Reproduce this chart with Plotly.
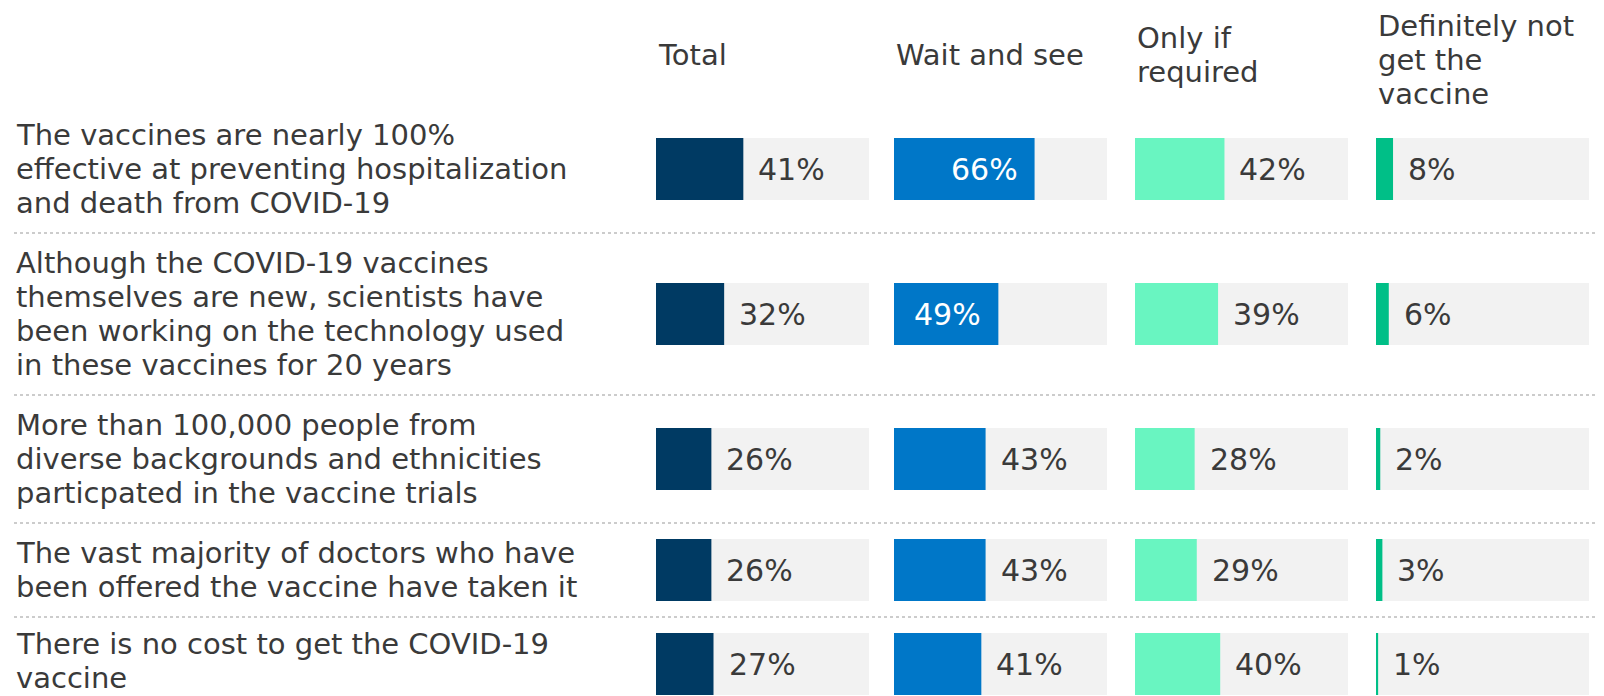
import plotly.graph_objects as go

# ---------------- data ----------------
statements = [
    "The vaccines are nearly 100%<br>effective at preventing hospitalization<br>and death from COVID-19",
    "Although the COVID-19 vaccines<br>themselves are new, scientists have<br>been working on the technology used<br>in these vaccines for 20 years",
    "More than 100,000 people from<br>diverse backgrounds and ethnicities<br>particpated in the vaccine trials",
    "The vast majority of doctors who have<br>been offered the vaccine have taken it",
    "There is no cost to get the COVID-19<br>vaccine",
]
groups = ["Total", "Wait and see", "Only if<br>required", "Definitely not<br>get the<br>vaccine"]
total = [41, 32, 26, 26, 27]
wait_and_see = [66, 49, 43, 43, 41]
only_if_required = [42, 39, 28, 29, 40]
definitely_not = [8, 6, 2, 3, 1]

series = [total, wait_and_see, only_if_required, definitely_not]
colors = ["#003a63", "#0077c8", "#69f5c1", "#00bf87"]

# ---------------- layout constants (page pixels) ----------------
PAGE_W, PAGE_H = 1604, 696
OFF = 8                      # default body margin of the html page
W, H = PAGE_W - OFF, PAGE_H - OFF
FONT = "DejaVu Sans, Verdana, sans-serif"
FS = 29
FS_VAL = 30
TXT = "#3a3a3a"
BG = "#f2f2f2"
col_left = [656, 894, 1135, 1376]
col_w = 213
LINE = 34
PAD = 26
ROW_TOP = 105
BAR_H = 62
HEADER_Y = 55
HEADER_LINE = 34
LABEL_X = 14
HALF_TXT = 18                # half height of a text line box, keeps text inside page

# row geometry derived from number of label lines (in figure pixels)
n_lines = [len(s.split("<br>")) for s in statements]
centers, bounds = [], []
y = ROW_TOP - OFF
for n in n_lines:
    h = n * LINE + PAD
    centers.append(y + h / 2)
    y += h
    bounds.append(y)

fig = go.Figure()
annotations = []
shapes = []

for i, (vals, col) in enumerate(zip(series, colors)):
    ax = "x" if i == 0 else f"x{i+1}"
    fig.add_trace(go.Bar(x=[100] * len(vals), y=centers, orientation="h", width=BAR_H,
                         marker=dict(color=BG, line=dict(width=0)), xaxis=ax, yaxis="y",
                         hoverinfo="skip", showlegend=False))
    fig.add_trace(go.Bar(x=vals, y=centers, orientation="h", width=BAR_H,
                         marker=dict(color=col, line=dict(width=0)), xaxis=ax, yaxis="y",
                         hovertemplate="%{x}%<extra></extra>", showlegend=False))
    for v, c in zip(vals, centers):
        inside = v >= 45
        annotations.append(dict(
            x=v, y=c, xref=ax, yref="y", text=f"{v}%", showarrow=False,
            xanchor="right" if inside else "left", yanchor="middle",
            xshift=-15 if inside else 13,
            font=dict(family=FONT, size=FS_VAL, color="#ffffff" if inside else TXT)))
    # header, block centred on HEADER_Y but kept inside the page top
    hl = groups[i].split("<br>")
    first = HEADER_Y - OFF - (len(hl) - 1) / 2 * HEADER_LINE
    first = max(first, HALF_TXT)
    for k, line in enumerate(hl):
        annotations.append(dict(
            x=0, xref=f"{ax} domain", y=first + k * HEADER_LINE, yref="y",
            text=line, showarrow=False, xanchor="left", yanchor="middle",
            font=dict(family=FONT, size=FS, color=TXT)))

# row labels, one annotation per line, kept inside the page bottom
for s, c in zip(statements, centers):
    lines = s.split("<br>")
    first = c - (len(lines) - 1) / 2 * LINE
    last = first + (len(lines) - 1) * LINE
    if last > H - HALF_TXT:
        first -= last - (H - HALF_TXT)
    for k, line in enumerate(lines):
        annotations.append(dict(
            x=(LABEL_X - OFF) / W, xref="paper", y=first + k * LINE, yref="y",
            text=line, showarrow=False, xanchor="left", yanchor="middle",
            font=dict(family=FONT, size=FS, color=TXT)))

# dotted separators between rows
for b in bounds[:-1]:
    shapes.append(dict(type="line", xref="paper", yref="y", x0=(LABEL_X - OFF) / W, x1=1,
                       y0=b, y1=b, line=dict(color="#cccccc", width=2, dash="dot")))

layout = dict(
    width=W, height=H, margin=dict(l=0, r=0, t=0, b=0),
    paper_bgcolor="white", plot_bgcolor="white", barmode="overlay",
    yaxis=dict(range=[H, 0], domain=[0, 1], visible=False, fixedrange=True),
    annotations=annotations, shapes=shapes,
    font=dict(family=FONT, color=TXT),
)
for i in range(4):
    key = "xaxis" if i == 0 else f"xaxis{i+1}"
    x0 = (col_left[i] - OFF) / W
    x1 = (col_left[i] - OFF + col_w) / W
    layout[key] = dict(domain=[x0, x1], range=[0, 100], visible=False, anchor="y", fixedrange=True)
fig.update_layout(**layout)

fig.write_html("out.html")
